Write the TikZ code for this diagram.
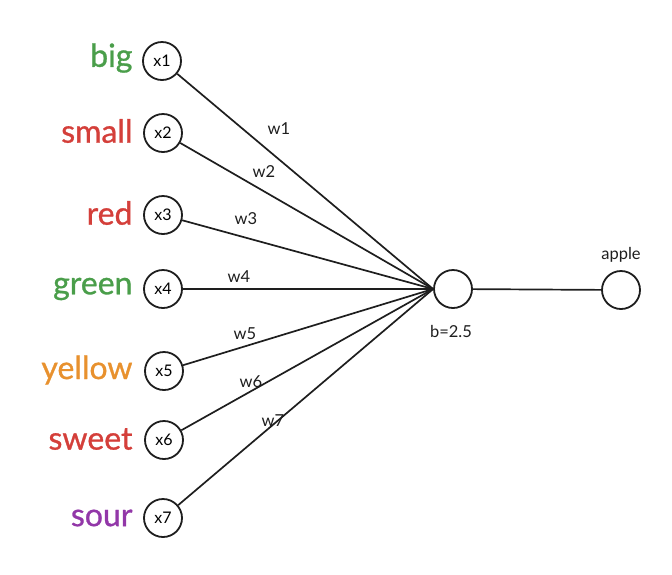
\documentclass[tikz,border=0pt]{standalone}
\usepackage{fontspec}
\setmainfont{Lato}
\newfontfamily\wordfont[BoldFont={Lato},BoldFeatures={FakeBold=0.9}]{Lato}
\definecolor{cgreen}{HTML}{4A9E4A}
\definecolor{cred}{HTML}{D43F3A}
\definecolor{corange}{HTML}{E8912E}
\definecolor{cpurple}{HTML}{9237A8}
\definecolor{cink}{HTML}{1E1E1E}
\begin{document}
\begin{tikzpicture}[x=1pt,y=-1pt,
  neuron/.style={circle,draw=cink,line width=1.8pt,minimum size=38pt,inner sep=0pt,font=\fontsize{16}{16}\selectfont},
  word/.style={anchor=east,font=\wordfont\bfseries\fontsize{32}{32}\selectfont},
  wlab/.style={font=\fontsize{16.5}{16.5}\selectfont,text=cink},
  conn/.style={draw=cink,line width=1.7pt}]
\useasboundingbox (0,0) rectangle (672,574);
\node[neuron] (x1) at (162,61) {x1};
\node[neuron] (x2) at (163,133) {x2};
\node[neuron] (x3) at (163,215) {x3};
\node[neuron] (x4) at (163,289) {x4};
\node[neuron] (x5) at (164,371) {x5};
\node[neuron] (x6) at (164,440) {x6};
\node[neuron] (x7) at (163,518) {x7};
\node[neuron] (h) at (453,289) {};
\node[neuron] (o) at (621,290) {};
\node[word,text=cgreen] (l1) at (136,58) {big};
\node[word,text=cred] (l2) at (136,131) {small};
\node[word,text=cred] (l3) at (136,213) {red};
\node[word,text=cgreen] (l4) at (136,289) {green};
\node[word,text=corange] (l5) at (136,370) {yellow};
\node[word,text=cred] (l6) at (136,439) {sweet};
\node[word,text=cpurple] (l7) at (136,518) {sour};
\node[wlab] (ap) at (621,255) {apple};
\node[wlab] (bl) at (451,331) {b=2.5};
\foreach \i in {1,...,7}{\draw[conn] (x\i) -- (h.west);}
\draw[conn] (h) -- (o);
\node[wlab] (w1) at (279,129) {w1};
\node[wlab] (w2) at (264,172) {w2};
\node[wlab] (w3) at (246,219) {w3};
\node[wlab] (w4) at (239,277) {w4};
\node[wlab] (w5) at (245,334) {w5};
\node[wlab] (w6) at (251,382) {w6};
\node[wlab] (w7) at (273,421) {w7};
\end{tikzpicture}
\end{document}
